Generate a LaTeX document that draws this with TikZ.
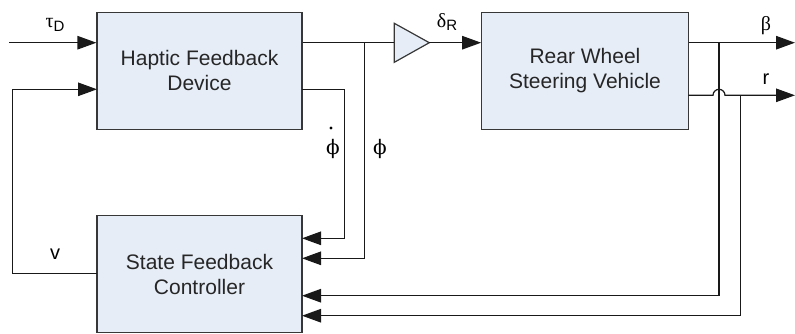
\documentclass[tikz,border=0pt]{standalone}
\usepackage{fontspec}
\setmainfont{Liberation Sans}
\newfontfamily\grk{Liberation Serif}
\newfontfamily\phifont{DejaVu Serif}
\usetikzlibrary{arrows.meta,calc}
\definecolor{boxfill}{RGB}{230,237,247}
\definecolor{boxline}{RGB}{55,55,55}
\begin{document}
\begin{tikzpicture}[x=1pt,y=-1pt,
  blockbox/.style={draw=boxline,fill=boxfill,line width=1.2pt,rectangle,
    inner sep=0pt,align=center,font=\fontsize{21}{25}\selectfont,text=black!85},
  wire/.style={line width=1.2pt,draw=black!90},
  arr/.style={wire,-{Triangle[length=19pt,width=13.5pt]}},
  lbl/.style={inner sep=0pt,font=\fontsize{20}{22}\selectfont}]
\useasboundingbox (0,0) rectangle (795,333);
% blocks
\node[blockbox,minimum width=205pt,minimum height=117pt] (haptic) at (199.5,70.8) {Haptic Feedback\\Device};
\node[blockbox,minimum width=206.6pt,minimum height=117pt] (rwsv) at (585,70.8) {Rear Wheel\\Steering Vehicle};
\node[blockbox,minimum width=205pt,minimum height=116.6pt] (ctrl) at (199.5,274) {State Feedback\\Controller};
% gain triangle
\coordinate (gin) at (394.3,42.7);
\coordinate (gout) at (429.3,42.7);
\draw[boxline,fill=boxfill,line width=1.2pt,line join=miter] (394.3,23.3) -- (gout) -- (394.3,62.3) -- cycle;
% coordinates
\coordinate (tin) at (9,42.7);
\coordinate (hin2) at (97,89.3);
\coordinate (hdot) at (302,89.3);
\coordinate (hdotc) at (344.3,89.3);
\coordinate (j1) at (364.3,42.7);
\coordinate (fbl) at (12.7,89.3);
\coordinate (fbs) at (97,273.3);
\coordinate (c1) at (302,238.3);
\coordinate (c2) at (302,258.3);
\coordinate (c3) at (302,295.7);
\coordinate (c4) at (302,315.7);
\coordinate (j2) at (719,42.7);
\coordinate (ry) at (688.3,95.3);
\coordinate (j3) at (740.7,95.3);
\coordinate (bend) at (795,42.7);
\coordinate (rend) at (795,95.3);
% wires
\draw[arr] (tin) -- (haptic.west |- tin);
\draw[wire] (haptic.east |- tin) -- (gin);
\draw[arr] (gout) -- (rwsv.west |- gout);
\draw[arr] (hdot) -- (hdotc) |- (c1);
\draw[arr] (j1) |- (c2);
\draw[arr] (fbs) -| (fbl) -- (hin2);
\draw[arr] (rwsv.east |- tin) -- (bend);
\draw[arr] (ry) -- (713,95.3) arc (180:360:6) -- (rend);
\draw[arr] (j2) |- (c3);
\draw[arr] (j3) |- (c4);
% labels
\node[lbl] (ltau) at (55,25) {{\grk τ}\raisebox{-0.35ex}{\fontsize{15}{15}\selectfont D}};
\node[lbl] (ldelta) at (447,22) {{\grk δ}\raisebox{-0.35ex}{\fontsize{15}{15}\selectfont R}};
\node[lbl] (lbeta) at (766,26) {\grk β};
\node[lbl] (lr) at (766,79) {r};
\node[lbl] (lv) at (55,254) {v};
\node[lbl] (lphid) at (333,149) {\phifont ϕ};
\fill (331,128) circle (1.6);
\node[lbl] (lphi) at (380,149) {\phifont ϕ};
\end{tikzpicture}
\end{document}
